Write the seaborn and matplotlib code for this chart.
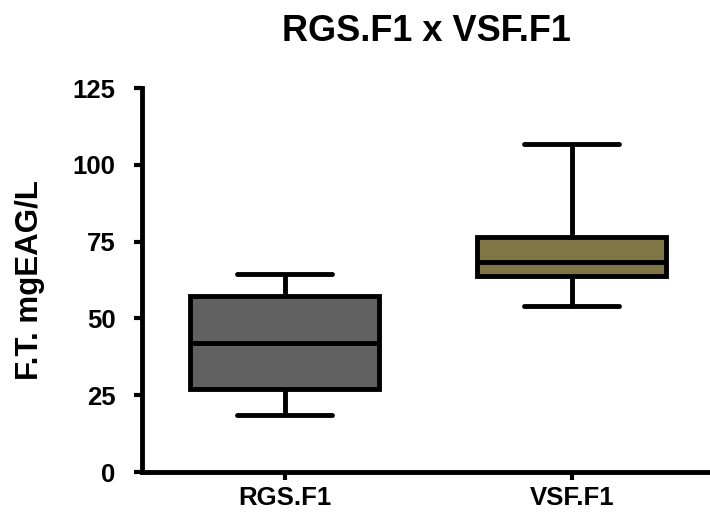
import numpy as np
import pandas as pd
import matplotlib
matplotlib.use("Agg")
import matplotlib.pyplot as plt
import seaborn as sns

groups = ["RGS.F1", "VSF.F1"]
# five-number summaries per group: min, Q1, median, Q3, max
rgs_summary = [18.7, 27.0, 41.9, 57.4, 64.4]
vsf_summary = [54.0, 63.8, 68.5, 76.4, 106.8]
box_colors = ["#616161", "#8a7b3b"]
y_ticks = [0, 25, 50, 75, 100, 125]

sns.set_theme(style="ticks")
plt.rcParams["font.family"] = ["Liberation Sans", "DejaVu Sans"]
plt.rcParams["font.weight"] = "bold"
plt.rcParams["axes.labelweight"] = "bold"
plt.rcParams["axes.titleweight"] = "bold"
for key in ["text.color", "axes.labelcolor", "xtick.color", "ytick.color",
            "xtick.labelcolor", "ytick.labelcolor", "axes.edgecolor"]:
    plt.rcParams[key] = "black"

df = pd.DataFrame({
    "group": np.repeat(groups, len(rgs_summary)),
    "value": rgs_summary + vsf_summary,
})

W, H = 710, 513
fig = plt.figure(figsize=(W / 100, H / 100), dpi=100)
ax = fig.add_axes([142 / W, (H - 472) / H, 1 - 142 / W, (472 - 88) / H])

lw = 3.5
sns.boxplot(
    data=df, x="group", y="value", hue="group", order=groups,
    palette=box_colors, width=0.66, whis=(0, 100),
    linecolor="black", linewidth=lw, legend=False, ax=ax,
)

ax.set_xlim(-0.497, 1.482)
ax.set_ylim(0, 125)
ax.set_yticks(y_ticks)
ax.set_xlabel("")
ax.set_ylabel("F.T. mgEAG/L", fontsize=22.5, labelpad=20, color="black")
ax.set_title("RGS.F1 x VSF.F1", fontsize=26, pad=34, color="black")

for side in ["top", "right"]:
    ax.spines[side].set_visible(False)
for side in ["left", "bottom"]:
    ax.spines[side].set_linewidth(lw)
    ax.spines[side].set_color("black")

ax.tick_params(axis="y", labelsize=18.5, width=3, length=6, pad=13,
               color="black", labelcolor="black")
ax.tick_params(axis="x", labelsize=18.5, width=3, length=6, pad=4,
               color="black", labelcolor="black")

fig.savefig("out.png", dpi=100)
